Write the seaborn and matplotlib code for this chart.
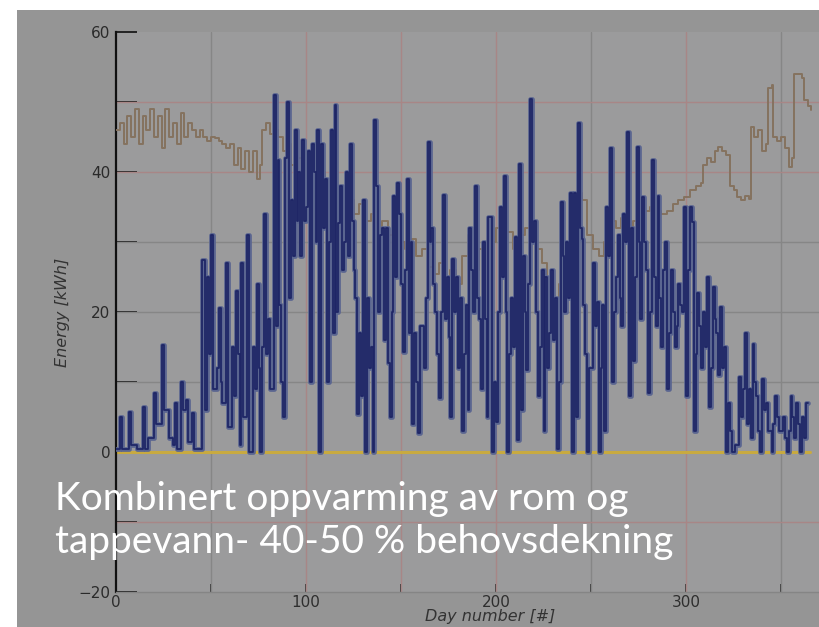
import matplotlib
matplotlib.use("Agg")
import matplotlib.pyplot as plt
import seaborn as sns
import pandas as pd
from matplotlib.patches import Rectangle

# ---------------- data ----------------
demand_days = [0, 2, 4, 6, 8, 10, 12, 14, 16, 18, 20, 22, 24, 26, 28, 30, 32, 34, 36, 38,
               40, 42, 44, 46, 48, 50, 52, 54, 56, 58, 60, 62, 64, 66, 68, 70, 72, 74, 76, 77,
               79, 81, 83, 85, 88, 90, 92, 95, 98, 101, 104, 107, 110, 113, 116, 119, 122, 125,
               128, 131, 134, 137, 140, 143, 146, 149, 152, 155, 158, 161, 164, 167, 170, 173,
               176, 179, 182, 185, 188, 191, 194, 197, 200, 203, 206, 209, 212, 215, 218, 221,
               224, 227, 230, 233, 236, 239, 242, 245, 248, 251, 254, 257, 260, 263, 266, 269,
               272, 275, 278, 281, 284, 287, 290, 293, 296, 299, 302, 305, 308, 309, 311, 313,
               315, 317, 319, 321, 323, 325, 327, 329, 331, 333, 334, 336, 338, 340, 342, 343,
               345, 346, 348, 350, 352, 354, 356, 357, 359, 361, 362, 364, 366]
demand_vals = [46, 47, 44, 48, 45, 49, 44, 48, 46, 49, 45, 48, 43.5, 49, 45, 47, 44, 48.5, 45, 47,
               46, 45, 46, 45, 44.5, 45, 44.8, 44.5, 44, 43.5, 44, 41, 43.5, 40.5, 43, 40, 43, 39, 41, 46,
               47, 45.5, 46, 45, 43, 44, 41, 42, 40, 41, 38.5, 40, 37.5, 38.5, 37, 35, 36, 34,
               35.5, 33, 34, 32, 33, 31, 31.5, 30, 29, 30.5, 28, 29, 26.5, 25.5, 27, 24.5,
               26, 24, 28, 31, 26, 29, 25, 30, 32, 30, 31.5, 29, 31, 32, 30, 29,
               27, 25, 22, 24, 27, 36, 37, 36, 31, 29, 28, 30, 33, 32, 33.5, 31.5,
               33, 34, 34.5, 35, 34.5, 34, 34.5, 35.5, 36, 36.5, 37.5, 38, 38.5, 41, 42, 41.5,
               43, 43.6, 43, 42.5, 38, 37.4, 36.4, 36, 36.6, 36.2, 46.4, 45, 46, 43, 44, 52,
               52.5, 45, 44.5, 45, 43.5, 40.7, 42, 54, 54, 53.5, 50.3, 49.5, 48.9]

solar_days = [0, 2, 3, 7, 8, 11, 14, 15, 17, 20, 21, 24, 25, 27, 28, 30, 31, 32, 34, 35,
              37, 38, 40, 41, 43, 45, 47, 48, 49, 50, 51, 53, 54, 55, 56, 58, 59, 61, 62, 63,
              64, 65, 66, 67, 69, 70, 72, 73, 74, 75, 76, 77, 78, 79, 80, 81, 83, 84, 85, 86,
              87, 88, 89, 90, 91, 92, 93, 94, 95, 96, 97, 98, 99, 100, 101, 102, 103, 104, 105, 106,
              107, 108, 109, 110, 111, 112, 113, 114, 115, 116, 117, 118, 119, 120, 121, 122, 123, 124, 125, 126,
              127, 128, 129, 130, 131, 132, 133, 134, 135, 136, 137, 138, 139, 140, 141, 142, 143, 144, 145, 146,
              147, 148, 149, 150, 151, 152, 153, 154, 155, 156, 157, 158, 159, 160, 162, 163, 164, 165, 166, 167,
              168, 169, 170, 171, 172, 173, 174, 175, 176, 177, 178, 179, 180, 181, 182, 183, 184, 185, 186, 187,
              188, 189, 190, 191, 192, 193, 194, 195, 196, 198, 199, 200, 201, 202, 203, 204, 205, 206, 207, 208,
              209, 210, 211, 212, 213, 214, 215, 216, 217, 218, 219, 220, 221, 222, 223, 224, 225, 226, 227, 228,
              229, 230, 231, 232, 233, 234, 235, 236, 237, 238, 239, 240, 241, 242, 243, 244, 245, 246, 247, 248,
              249, 251, 252, 253, 254, 255, 256, 257, 258, 259, 260, 261, 262, 263, 264, 265, 266, 267, 268, 269,
              270, 271, 272, 273, 274, 275, 276, 277, 278, 279, 280, 281, 282, 283, 284, 285, 286, 287, 288, 289,
              290, 291, 292, 293, 294, 295, 296, 297, 298, 299, 300, 301, 302, 303, 304, 305, 306, 307, 308, 309,
              310, 311, 312, 313, 314, 315, 316, 317, 318, 319, 320, 321, 322, 323, 324, 326, 328, 329, 330, 331,
              332, 333, 334, 335, 336, 337, 338, 339, 340, 341, 342, 343, 345, 346, 347, 348, 349, 351, 352, 353,
              354, 355, 356, 357, 358, 359, 360, 361, 362, 363, 364]
solar_vals = [0.5, 5, 0.5, 5.7, 1, 0.5, 6.4, 0.5, 2, 8.4, 4, 15.3, 6, 6, 2, 1, 7, 0.5, 10, 6,
              7.5, 1.5, 5.6, 0.5, 0.5, 27.4, 6, 25, 14, 31, 9, 12, 20.6, 10, 7, 27, 3.6, 15, 8, 23,
              14, 1, 27, 5, 31, 0, 15, 9, 24, 12, 0, 15, 34, 14, 19, 9, 51, 18, 41.7, 21,
              10, 5, 42, 50, 22, 36, 28, 46, 33, 40, 28, 44.6, 33, 35, 43, 10, 44, 40, 30, 46,
              0, 44, 32, 39, 10, 30, 46, 17, 49.6, 20, 32.7, 38, 26, 30, 40, 28, 44, 33, 26, 22,
              5.5, 17, 8, 36, 0, 22, 12, 15, 0, 47.4, 38, 20, 31, 32, 16, 32, 12.7, 5, 20, 36.6,
              25, 38.4, 34, 24, 14.3, 26, 39, 17, 30, 4, 17, 10, 2.7, 18, 12, 22, 44.3, 30, 32, 24,
              20, 14, 7.7, 20, 36.7, 19, 25, 16.5, 5, 27.6, 20, 25, 12, 22, 3, 14, 21, 6, 32, 26,
              20, 38, 22, 19, 9, 30, 19, 5, 33.6, 0, 10, 4.3, 20, 35, 25, 39.5, 20, 0, 14, 22,
              15, 30.7, 1.7, 41.2, 6, 28, 20, 11.7, 24, 50.5, 30, 33, 20, 8, 15, 26, 3, 25, 12, 17,
              26, 16, 22, 0.5, 10, 35.7, 28, 20, 30, 22, 37, 0, 37, 5, 47, 32, 30.5, 21, 14, 0,
              12, 27, 18, 21.5, 0, 12, 21, 3, 35, 28, 43.4, 10, 20, 25, 31, 22, 18, 34, 30, 45.7,
              8, 32, 13, 25, 43.6, 30, 19, 36.4, 30, 26, 8.4, 20, 41.7, 25, 18, 36.6, 22, 15, 26, 30,
              9, 17, 26, 20, 15, 18, 24, 21, 20, 35, 8, 26, 35, 32.9, 3, 14, 22.7, 18, 12, 20,
              15, 25, 6.4, 12, 23.6, 19, 17, 11, 20.7, 12, 15, 0, 7, 3, 0, 1, 10.7, 5, 9, 17,
              4, 9, 2, 15.5, 10, 8, 3, 0, 10.5, 6, 7, 3, 0, 4, 8, 5, 3, 5, 2, 0,
              3, 8, 5, 2, 7, 4, 0, 5, 2, 7, 7]

aux_days = [0, 365]
aux_vals = [0, 0]

y_ticks = [-20, 0, 20, 40, 60]
x_ticks = [0, 100, 200, 300]
overlay_lines = ["Kombinert oppvarming av rom og", "tappevann- 40-50 % behovsdekning"]

# ---------------- style ----------------
sns.set_style("white")
W, H = 819, 627
fig = plt.figure(figsize=(W / 100, H / 100), dpi=100, facecolor="white")
fig.patches.append(Rectangle((17 / W, 0), 1 - 17 / W, (H - 10) / H,
                             transform=fig.transFigure, facecolor="#959595",
                             edgecolor="none", zorder=-5))

ax = fig.add_axes([116 / W, 35 / H, (W - 116) / W, 560 / H])
ax.set_zorder(1)
ax.set_facecolor("#9b9b9c")
ax.set_xlim(0, 370)
ax.set_ylim(-20, 60)

# grid lines (TRNSYS style: mixed reddish and grey)
red = "#a88686"
grey = "#868686"
for xv, c in [(50, grey), (100, red), (150, red), (200, red), (250, grey), (300, red), (350, grey)]:
    ax.axvline(xv, color=c, lw=1.0, zorder=1)
for yv, c in [(50, red), (40, red), (30, grey), (20, grey), (10, grey), (-10, red)]:
    ax.axhline(yv, color=c, lw=1.0, zorder=1)

df_dem = pd.DataFrame({"day": demand_days, "energy": demand_vals})
df_sol = pd.DataFrame({"day": solar_days, "energy": solar_vals})
df_aux = pd.DataFrame({"day": aux_days, "energy": aux_vals})

sns.lineplot(data=df_aux, x="day", y="energy", ax=ax, color="#c8aa40", lw=2.2,
             estimator=None, zorder=2)
sns.lineplot(data=df_dem, x="day", y="energy", ax=ax, color="#85725f", lw=1.4,
             estimator=None, drawstyle="steps-post", zorder=3)
sns.lineplot(data=df_sol, x="day", y="energy", ax=ax, color="#5a6590", lw=3.4,
             estimator=None, drawstyle="steps-post", zorder=4)
sns.lineplot(data=df_sol, x="day", y="energy", ax=ax, color="#1f2666", lw=1.3,
             estimator=None, drawstyle="steps-post", zorder=5)

for s in ["top", "right"]:
    ax.spines[s].set_visible(False)
ax.spines["left"].set_color("#111111")
ax.spines["left"].set_linewidth(1.6)
ax.spines["bottom"].set_color("#858585")
ax.spines["bottom"].set_linewidth(1.0)

ax.set_yticks(y_ticks)
ax.set_yticks([-10, 10, 30, 50], minor=True)
ax.set_xticks(x_ticks)
ax.set_xticks([50, 150, 250, 350], minor=True)
ax.tick_params(axis="y", which="both", left=True, direction="in", length=15, width=1.3,
               color="#1a1a1a", labelsize=11, labelcolor="#2a2a2a", pad=4)
ax.tick_params(axis="x", which="both", bottom=True, direction="in", length=6, width=1.3,
               color="#333333", labelsize=11, labelcolor="#2e2e2e", pad=2)
ax.set_xlabel("")
ax.set_ylabel("")

fig.text(63 / W, 1 - 312 / H, "Energy [kWh]", rotation=90, ha="center", va="center",
         fontsize=11.5, style="italic", color="#333333")
fig.text(490 / W, 1 - 617 / H, "Day number [#]", ha="center", va="center",
         fontsize=11.5, style="italic", color="#333333")

fig.text(55 / W, 1 - 510 / H, overlay_lines[0], color="white", fontsize=28,
         family=["Lato", "DejaVu Sans"], va="baseline", ha="left", zorder=10)
fig.text(55 / W, 1 - 553 / H, overlay_lines[1], color="white", fontsize=28,
         family=["Lato", "DejaVu Sans"], va="baseline", ha="left", zorder=10)

fig.savefig("out.png", dpi=100, facecolor="white")
